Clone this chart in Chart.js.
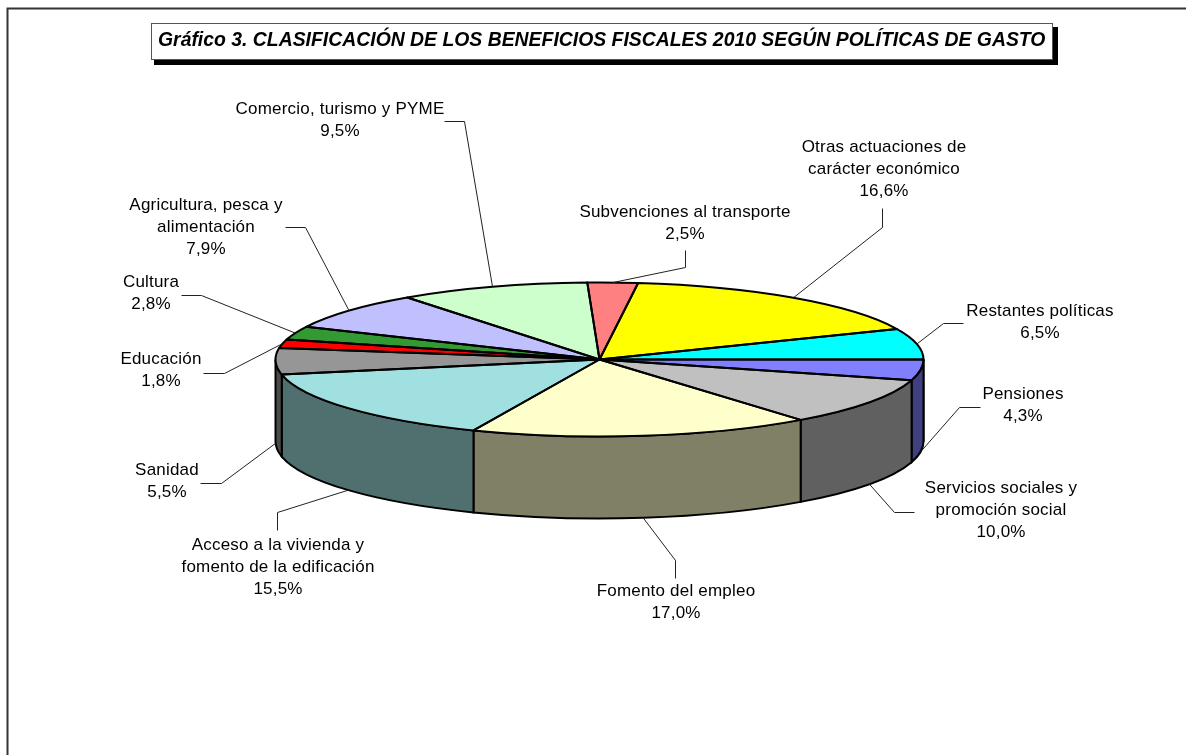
<!DOCTYPE html>
<html><head><meta charset="utf-8">
<style>html,body{margin:0;padding:0;background:#fff}canvas{display:block}#w{width:1186px;height:755px;position:relative}</style>
<script src="https://cdn.jsdelivr.net/npm/chart.js@4"></script>
</head><body><div id="w"><canvas id="c" width="1186" height="755"></canvas></div>
<script>
const titleText = 'Gráfico 3. CLASIFICACIÓN DE LOS BENEFICIOS FISCALES 2010 SEGÚN POLÍTICAS DE GASTO';
const categories = ['Subvenciones al transporte','Otras actuaciones de carácter económico','Restantes políticas','Pensiones','Servicios sociales y promoción social','Fomento del empleo','Acceso a la vivienda y fomento de la edificación','Sanidad','Educación','Cultura','Agricultura, pesca y alimentación','Comercio, turismo y PYME'];
const shares = [2.5,16.6,6.5,4.3,10.0,17.0,15.5,5.5,1.8,2.8,7.9,9.5];
const topColors = ['#FF8080','#FFFF00','#00FFFF','#8080FF','#C0C0C0','#FFFFCC','#A0E0E0','#969696','#FF0000','#339933','#C0C0FF','#CCFFCC'];
const wallColors = ['#804040','#808000','#008080','#404080','#606060','#808066','#507070','#4B4B4B','#800000','#1A4D1A','#606080','#668066'];
// label layout: wrapped lines, centre x, first-line centre y, leader start, leader elbow
const labelLines = [['Subvenciones al transporte'],['Otras actuaciones de','carácter económico'],['Restantes políticas'],['Pensiones'],['Servicios sociales y','promoción social'],['Fomento del empleo'],['Acceso a la vivienda y','fomento de la edificación'],['Sanidad'],['Educación'],['Cultura'],['Agricultura, pesca y','alimentación'],['Comercio, turismo y PYME']];
const labelX = [685,884,1040,1023,1001,676,278,167,161,151,206,340];
const labelY = [212,147,311,394,488,591,545,470,359,282,205,109];
const leaderStart = [[685,250],[882,208],[963,323],[980,407],[914,512],[675,578],[277,530],[200,483],[203,373],[181,295],[285,227],[444,121]];
const leaderElbow = [[685,267],[882,227],[943,323],[959,407],[894,512],[675,560],[277,512],[221,483],[224,373],[201,295],[305,227],[464,121]];

const DEPTH = 82, SQUASH = 77/324, LINE = 22.4;
const FONT = '17px "Liberation Sans", Arial, sans-serif';
const TITLEFONT = 'italic bold 19.4px "Liberation Sans", Arial, sans-serif';

const pie3d = {
  id:'pie3d',
  beforeDatasetsDraw(chart){
    const ctx = chart.ctx, arcs = chart.getDatasetMeta(0).data;
    const {x:cx,y:cy,outerRadius:r} = arcs[0], ry = r*SQUASH;
    // frame + title
    ctx.save();
    ctx.fillStyle='#fff';ctx.fillRect(0,0,1186,755);
    ctx.strokeStyle='#333';ctx.lineWidth=2;
    ctx.beginPath();ctx.moveTo(7.5,755);ctx.lineTo(7.5,8.5);ctx.lineTo(1186,8.5);ctx.stroke();
    ctx.fillStyle='#000';ctx.fillRect(154,27,904,38);
    ctx.fillStyle='#fff';ctx.fillRect(151,23,902,37);
    ctx.strokeStyle='#555';ctx.lineWidth=1;ctx.strokeRect(151.5,23.5,901,36);
    ctx.fillStyle='#000';ctx.font=TITLEFONT;ctx.textAlign='left';ctx.textBaseline='alphabetic';
    ctx.fillText(titleText,158,46);
    // side walls, only the parts on the near half
    ctx.lineWidth=2;ctx.strokeStyle='#000';
    arcs.forEach((a,i)=>{
      for(const k of [-2,0,2]){
        const s=Math.max(a.startAngle,k*Math.PI), e=Math.min(a.endAngle,(k+1)*Math.PI);
        if(e<=s) continue;
        ctx.beginPath();
        ctx.ellipse(cx,cy,r,ry,0,s,e);
        ctx.ellipse(cx,cy+DEPTH,r,ry,0,e,s,true);
        ctx.closePath();
        ctx.fillStyle=wallColors[i];ctx.fill();ctx.stroke();
      }
    });
    ctx.restore();
    ctx.save();
    ctx.translate(cx,cy);ctx.scale(1,SQUASH);ctx.translate(-cx,-cy);
  },
  afterDatasetsDraw(chart){
    const ctx = chart.ctx; ctx.restore();
    const arcs = chart.getDatasetMeta(0).data;
    const {x:cx,y:cy,outerRadius:r} = arcs[0], ry = r*SQUASH;
    ctx.save();
    ctx.strokeStyle='#000';ctx.lineWidth=2;ctx.lineJoin='round';
    arcs.forEach(a=>{
      ctx.beginPath();ctx.moveTo(cx,cy);
      ctx.ellipse(cx,cy,r,ry,0,a.startAngle,a.endAngle);
      ctx.closePath();ctx.stroke();
    });
    // leaders and labels
    ctx.font=FONT;ctx.letterSpacing='0.2px';ctx.textAlign='center';ctx.textBaseline='middle';
    arcs.forEach((a,i)=>{
      const m=(a.startAngle+a.endAngle)/2;
      const ex=cx+r*Math.cos(m), ey=cy+ry*Math.sin(m)+(Math.sin(m)>0?DEPTH:0);
      ctx.strokeStyle='#222';ctx.lineWidth=1;
      ctx.beginPath();ctx.moveTo(leaderStart[i][0]+.5,leaderStart[i][1]+.5);
      ctx.lineTo(leaderElbow[i][0]+.5,leaderElbow[i][1]+.5);ctx.lineTo(ex,ey);ctx.stroke();
      ctx.fillStyle='#000';
      const lines=[...labelLines[i],shares[i].toFixed(1).replace('.',',')+'%'];
      lines.forEach((t,j)=>ctx.fillText(t,labelX[i],labelY[i]+j*LINE));
    });
    ctx.restore();
  }
};

new Chart(document.getElementById('c'),{
  type:'pie',
  plugins:[pie3d],
  data:{labels:categories,datasets:[{data:shares,backgroundColor:topColors,borderWidth:0,clip:false}]},
  options:{
    responsive:false,animation:false,rotation:-2.16,
    layout:{padding:{left:275.5,right:262.5,top:35.5,bottom:71.5}},
    plugins:{legend:{display:false},tooltip:{enabled:false}}
  }
});
</script></body></html>
